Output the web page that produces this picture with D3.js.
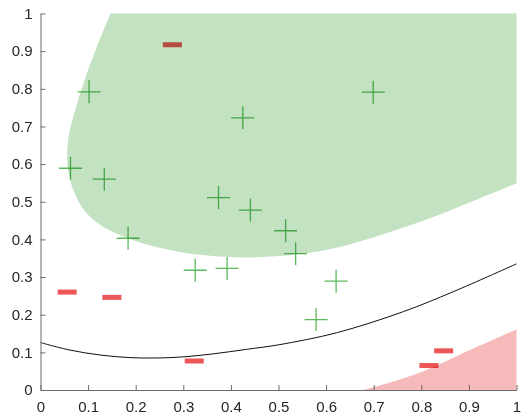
<!DOCTYPE html>
<html><head><meta charset="utf-8">
<script src="https://cdn.jsdelivr.net/npm/d3@7"></script>
<style>body{margin:0;background:#fff}svg{display:block}</style>
</head><body>
<svg id="c" width="523" height="418"></svg>
<script>
// ---- data ----
const xTicks = [0,0.1,0.2,0.3,0.4,0.5,0.6,0.7,0.8,0.9,1];
const yTicks = [0,0.1,0.2,0.3,0.4,0.5,0.6,0.7,0.8,0.9,1];
const tickLabels = ["0","0.1","0.2","0.3","0.4","0.5","0.6","0.7","0.8","0.9","1"];

const greenX = [0.102,0.063,0.134,0.184,0.699,0.425,0.374,0.441,0.515,0.536,0.392,0.325,0.621,0.579];
const greenY = [0.792,0.589,0.560,0.403,0.791,0.723,0.511,0.478,0.423,0.362,0.323,0.318,0.289,0.187];

const redX = [0.277,0.056,0.150,0.323,0.847,0.816];
const redY = [0.917,0.260,0.246,0.077,0.104,0.065];

const boundaryX = [0,0.062,0.125,0.188,0.244,0.30,0.363,0.433,0.50,0.622,0.762,0.867,1.0];
const boundaryY = [0.126,0.106,0.093,0.086,0.085,0.088,0.096,0.108,0.120,0.152,0.208,0.261,0.335];

const greenRegionX = [0.147,0.121,0.095,0.073,0.060,0.056,0.060,0.071,0.090,0.128,0.195,0.265,0.335,0.419,0.475,0.545,0.62,0.699,0.769,0.839,0.909,1.0];
const greenRegionY = [1,0.92,0.832,0.744,0.68,0.62,0.57,0.525,0.48,0.436,0.398,0.374,0.359,0.352,0.354,0.361,0.377,0.405,0.434,0.466,0.502,0.549];

const redRegionX = [0.678,0.75,0.811,0.902,1];
const redRegionY = [0,0.026,0.053,0.106,0.161];

// ---- chart ----
const svg = d3.select("#c");
const L = 40.5, R = 516.5, T = 13.5, B = 390;
const x = d3.scaleLinear().domain([0,1]).range([L,R]);
const y = d3.scaleLinear().domain([0,1]).range([B,T]);
const smooth = d3.line().x(d=>x(d[0])).y(d=>y(d[1])).curve(d3.curveCatmullRom.alpha(0.5));

const gPts = greenRegionX.map((v,i)=>[v,greenRegionY[i]]);
svg.append("path")
  .attr("d", smooth(gPts) + `L${x(1)},${y(1)}Z`)
  .attr("fill","#c2e2c2");

const rPts = redRegionX.map((v,i)=>[v,redRegionY[i]]);
svg.append("path")
  .attr("d", smooth(rPts) + `L${x(1)},${y(0)}Z`)
  .attr("fill","#f6baba");

// boundary curve
svg.append("path")
  .attr("d", smooth(boundaryX.map((v,i)=>[v,boundaryY[i]])))
  .attr("fill","none").attr("stroke","#111").attr("stroke-width",1);

// markers
const gm = svg.append("g");
greenX.forEach((v,i)=>{
  const cx = x(v), cy = y(greenY[i]);
  gm.append("path").attr("d",`M${cx-11.5},${cy}H${cx+11.5}M${cx},${cy-11.5}V${cy+11.5}`)
    .attr("stroke","#5cba5c").attr("stroke-width",1.3).attr("fill","none")
    .style("mix-blend-mode","multiply");
});
const rm = svg.append("g");
redX.forEach((v,i)=>{
  rm.append("rect").attr("x",x(v)-9.5).attr("y",y(redY[i])-2.5).attr("width",19).attr("height",5)
    .attr("fill","#ec5656").style("mix-blend-mode","multiply");
});

// axes
const ax = svg.append("g").attr("transform",`translate(0,${B})`)
  .call(d3.axisBottom(x).tickValues(xTicks).tickFormat((d,i)=>tickLabels[i]).tickSizeInner(-5).tickSizeOuter(0).tickPadding(11));
const ay = svg.append("g").attr("transform",`translate(${L},0)`)
  .call(d3.axisLeft(y).tickValues(yTicks).tickFormat((d,i)=>tickLabels[i]).tickSizeInner(-5).tickSizeOuter(0).tickPadding(8));
[ax,ay].forEach(a=>{
  a.select(".domain").attr("stroke","#6a6a6a");
  a.selectAll(".tick line").attr("stroke","#6a6a6a");
  a.selectAll("text").attr("fill","#262626").style("font-family","'Liberation Sans', Arial, sans-serif").style("font-size","15px");
});
</script>
</body></html>
